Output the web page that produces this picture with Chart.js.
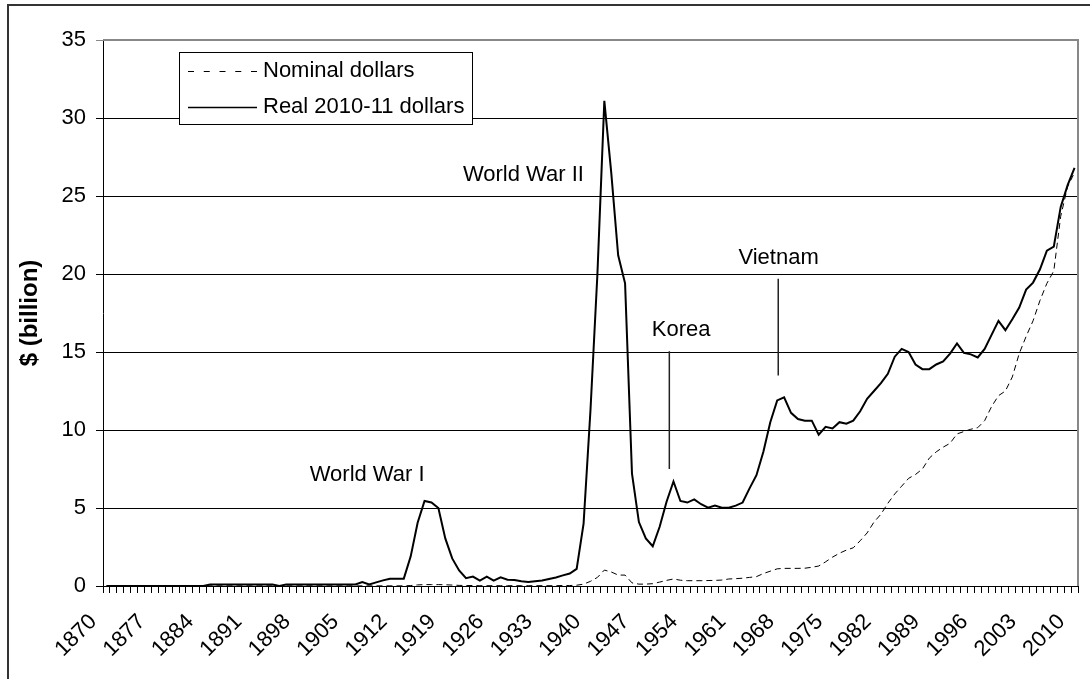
<!DOCTYPE html>
<html>
<head>
<meta charset="utf-8">
<title>Defence spending 1870-2010</title>
<script src="https://cdn.jsdelivr.net/npm/chart.js@4.4.1/dist/chart.umd.min.js"></script>
<style>
  body { margin: 0; background: #fff; }
  canvas { display: block; }
</style>
</head>
<body>
<canvas id="grafico" width="1090" height="679"></canvas>
<script>
const firstYear = 1870;
const lastYear = 2010;
const labelStep = 7;

const years = [];
for (let y = firstYear; y <= lastYear; y++) years.push(String(y));

// $ billion (1870 ... 2010)
const nominalDollars = [
  0, 0, 0, 0, 0, 0, 0, 0, 0, 0,
  0, 0, 0, 0, 0, 0.01, 0.01, 0.01, 0.01, 0.01,
  0.01, 0.01, 0.01, 0.01, 0.01, 0.01, 0.01, 0.01, 0.01, 0.01,
  0.01, 0.01, 0.01, 0.01, 0.01, 0.01, 0.01, 0.01, 0.01, 0.01,
  0.01, 0.01, 0.01, 0.01, 0.03, 0.07, 0.09, 0.09, 0.09, 0.08,
  0.06, 0.04, 0.03, 0.03, 0.02, 0.02, 0.02, 0.02, 0.02, 0.02,
  0.02, 0.02, 0.02, 0.02, 0.02, 0.02, 0.03, 0.03, 0.05, 0.12,
  0.3, 0.55, 1.02, 0.9, 0.7, 0.7, 0.2, 0.12, 0.12, 0.15,
  0.25, 0.36, 0.45, 0.37, 0.34, 0.34, 0.34, 0.35, 0.36, 0.38,
  0.45, 0.47, 0.5, 0.55, 0.6, 0.8, 0.95, 1.1, 1.13, 1.13,
  1.13, 1.14, 1.2, 1.28, 1.55, 1.85, 2.1, 2.3, 2.45, 2.9,
  3.4, 4.1, 4.6, 5.3, 5.9, 6.4, 6.9, 7.15, 7.5, 8.2,
  8.6, 8.9, 9.15, 9.75, 9.9, 10.05, 10.15, 10.6, 11.5, 12.2,
  12.5, 13.4, 14.9, 16.0, 17.0, 18.3, 19.4, 20.2, 23.7, 25.6,
  26.5
];

const realDollars = [
  0, 0, 0, 0, 0, 0, 0, 0, 0, 0,
  0, 0, 0, 0, 0, 0.1, 0.1, 0.1, 0.1, 0.1,
  0.1, 0.1, 0.1, 0.1, 0.1, 0.0, 0.1, 0.1, 0.1, 0.1,
  0.1, 0.1, 0.1, 0.1, 0.1, 0.1, 0.1, 0.26, 0.1, 0.23,
  0.36, 0.47, 0.47, 0.47, 1.9, 4.05, 5.45, 5.35, 5.0, 3.05,
  1.77, 1.0, 0.5, 0.6, 0.34, 0.6, 0.34, 0.55, 0.4, 0.38,
  0.3, 0.25, 0.3, 0.35, 0.45, 0.55, 0.68, 0.8, 1.1, 4.0,
  11.3, 20.0, 31.1, 26.5, 21.2, 19.4, 7.2, 4.1, 3.05, 2.55,
  3.8, 5.4, 6.7, 5.45, 5.35, 5.55, 5.24, 5.02, 5.15, 5.02,
  5.02, 5.15, 5.35, 6.26, 7.1, 8.6, 10.5, 11.9, 12.1, 11.1,
  10.7, 10.6, 10.6, 9.7, 10.2, 10.1, 10.5, 10.4, 10.6, 11.2,
  12.0, 12.5, 13.0, 13.6, 14.7, 15.2, 15.0, 14.2, 13.9, 13.9,
  14.2, 14.4, 14.9, 15.55, 14.95, 14.85, 14.65, 15.2, 16.1, 17.0,
  16.4, 17.1, 17.85, 19.0, 19.45, 20.3, 21.5, 21.75, 24.3, 25.7,
  26.8
];

const yMin = 0;
const yMax = 35;
const yStep = 5;

// war labels and pointer lines, in (year, $ billion)
const warLabels = [
  { text: 'World War I', year: 1907.7, value: 7.15 },
  { text: 'World War II', year: 1930.3, value: 26.35 },
  { text: 'Korea', year: 1953.1, value: 16.4 },
  { text: 'Vietnam', year: 1967.2, value: 21.0 }
];
const warPointers = [
  { year: 1951.4, from: 15.05, to: 7.5 },
  { year: 1967.15, from: 19.7, to: 13.5 }
];

const fontFamily = '"Liberation Sans", Arial, sans-serif';
const fontSize = 22;

const marcoExterior = {
  id: 'marcoExterior',
  beforeDraw(chart) {
    const ctx = chart.ctx;
    ctx.save();
    ctx.strokeStyle = '#333';
    ctx.lineWidth = 2;
    ctx.beginPath();
    ctx.moveTo(8, chart.height);
    ctx.lineTo(8, 5);
    ctx.lineTo(chart.width, 5);
    ctx.stroke();
    ctx.restore();
  }
};

const bordeArea = {
  id: 'bordeArea',
  beforeDatasetsDraw(chart) {
    const { ctx, chartArea } = chart;
    ctx.save();
    ctx.strokeStyle = '#888';
    ctx.lineWidth = 2;
    ctx.beginPath();
    ctx.moveTo(chartArea.left, chartArea.top);
    ctx.lineTo(chartArea.right, chartArea.top);
    ctx.lineTo(chartArea.right, chartArea.bottom);
    ctx.stroke();
    ctx.restore();
  }
};

const anotaciones = {
  id: 'anotaciones',
  afterDatasetsDraw(chart) {
    const { ctx, scales } = chart;
    const x = scales.x;
    const y = scales.y;
    ctx.save();
    ctx.fillStyle = '#000';
    ctx.font = fontSize + 'px ' + fontFamily;
    ctx.textAlign = 'center';
    ctx.textBaseline = 'middle';
    warLabels.forEach(l => {
      ctx.fillText(l.text, x.getPixelForValue(l.year - firstYear), y.getPixelForValue(l.value));
    });
    ctx.strokeStyle = '#222';
    ctx.lineWidth = 1.5;
    warPointers.forEach(p => {
      const px = x.getPixelForValue(p.year - firstYear);
      ctx.beginPath();
      ctx.moveTo(px, y.getPixelForValue(p.from));
      ctx.lineTo(px, y.getPixelForValue(p.to));
      ctx.stroke();
    });
    ctx.restore();
  }
};

const leyenda = {
  id: 'leyenda',
  afterDraw(chart) {
    const { ctx, chartArea } = chart;
    const left = chartArea.left + 76;
    const top = chartArea.top + 12;
    const width = 293;
    const height = 72;
    const rows = [19, 55];
    const dashes = [[6, 9.75], []];
    ctx.save();
    ctx.fillStyle = '#fff';
    ctx.fillRect(left, top, width, height);
    ctx.strokeStyle = '#000';
    ctx.lineWidth = 1;
    ctx.strokeRect(left + 0.5, top + 0.5, width, height);
    ctx.font = fontSize + 'px ' + fontFamily;
    ctx.textBaseline = 'middle';
    ctx.textAlign = 'left';
    chart.data.datasets.forEach((ds, i) => {
      const ry = Math.round(top + rows[i]) + 0.5;
      ctx.setLineDash(dashes[i]);
      ctx.lineWidth = i === 0 ? 1 : 1.5;
      ctx.beginPath();
      ctx.moveTo(left + 9, ry);
      ctx.lineTo(left + 78, ry);
      ctx.stroke();
      ctx.setLineDash([]);
      ctx.fillStyle = '#000';
      ctx.fillText(ds.label, left + 84, top + rows[i]);
    });
    ctx.restore();
  }
};

const data = {
  labels: years,
  datasets: [
    {
      label: 'Nominal dollars',
      data: nominalDollars,
      borderColor: '#000',
      borderWidth: 1,
      borderDash: [6, 4],
      pointRadius: 0,
      tension: 0
    },
    {
      label: 'Real 2010-11 dollars',
      data: realDollars,
      borderColor: '#000',
      borderWidth: 2,
      pointRadius: 0,
      tension: 0
    }
  ]
};

const config = {
  type: 'line',
  data: data,
  options: {
    responsive: false,
    animation: false,
    devicePixelRatio: 1,
    layout: { padding: { left: 0, top: 40, right: 12, bottom: 0 } },
    plugins: {
      legend: { display: false },
      tooltip: { enabled: false }
    },
    scales: {
      x: {
        type: 'category',
        offset: true,
        grid: { offset: true, drawOnChartArea: false, drawTicks: true, tickLength: 7, color: '#000' },
        border: { display: true, color: '#000', width: 1 },
        ticks: {
          autoSkip: false,
          maxRotation: 45,
          minRotation: 45,
          padding: 16,
          labelOffset: -13,
          color: '#000',
          font: { family: fontFamily, size: fontSize },
          callback: (value, i) => (i % labelStep === 0 ? years[i] : '')
        },
        afterFit: scale => {
          scale.height = 93;
          scale.paddingLeft = 0;
          scale.paddingRight = 0;
        }
      },
      y: {
        min: yMin,
        max: yMax,
        grid: {
          color: ctx => (ctx.tick && ctx.tick.value === yMax ? '#888' : '#000'),
          lineWidth: 1,
          tickLength: 7
        },
        border: { display: true, color: '#000', width: 1 },
        ticks: {
          stepSize: yStep,
          padding: 10,
          color: '#000',
          font: { family: fontFamily, size: fontSize }
        },
        title: {
          display: true,
          text: '$ (billion)',
          color: '#000',
          padding: { top: 16, bottom: 0 },
          font: { family: fontFamily, size: 24, weight: 'bold' }
        },
        afterFit: scale => {
          scale.width = 103;
          scale.paddingTop = 0;
          scale.paddingBottom = 0;
        }
      }
    }
  },
  plugins: [marcoExterior, bordeArea, anotaciones, leyenda]
};

new Chart(document.getElementById('grafico').getContext('2d'), config);
</script>
</body>
</html>
